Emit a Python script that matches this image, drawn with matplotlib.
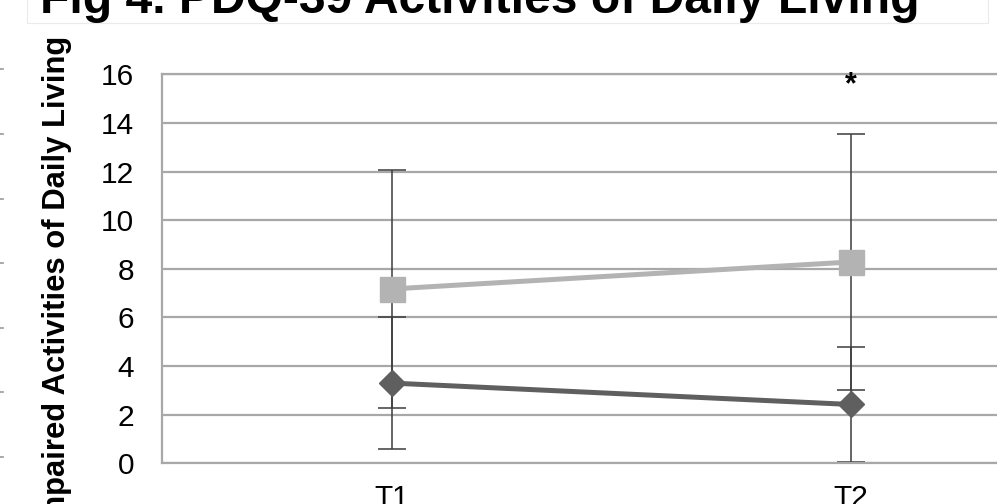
import matplotlib.pyplot as plt
from matplotlib.patches import Rectangle
from matplotlib.lines import Line2D

# PDQ-39 ADL scores at two time points
timepoints = ["T1", "T2"]
group_a_mean = [7.17, 8.28]   # light grey squares
group_a_err = [4.9, 5.25]
group_b_mean = [3.3, 2.42]    # dark grey diamonds
group_b_err = [2.7, 2.35]
y_ticks = [0, 2, 4, 6, 8, 10, 12, 14, 16]
sig_marks = ["", "*"]
sig_height = 15.55

plt.rcParams["font.family"] = ["Liberation Sans", "DejaVu Sans"]

W, H = 997, 504
fig = plt.figure(figsize=(W / 100, H / 100), dpi=100)
fig.patch.set_facecolor("white")

# plot area runs past the right edge of the image
ax = fig.add_axes([162 / W, (H - 463.3) / H, 918 / W, (463.3 - 74.3) / H])
x = list(range(len(timepoints)))

grid_col = "#a8a8a8"
ax.set_xlim(-0.5, len(timepoints) - 0.5)
ax.set_ylim(0, 16)
ax.set_yticks(y_ticks)
ax.set_xticks(x)
ax.set_xticklabels(timepoints)
ax.yaxis.grid(True, color=grid_col, lw=1.6)
ax.set_axisbelow(True)
for side in ["top", "bottom", "left"]:
    ax.spines[side].set_color(grid_col)
    ax.spines[side].set_linewidth(1.6)
ax.spines["right"].set_visible(False)
ax.tick_params(axis="y", length=0, pad=20, labelsize=21.5, colors="black")
ax.tick_params(axis="x", length=0, pad=15, labelsize=21.5, colors="black")

err_kw = dict(fmt="none", ecolor="#3c3c3c", elinewidth=1.1, capsize=10, capthick=1.1, zorder=2)
ax.errorbar(x, group_a_mean, yerr=group_a_err, **err_kw)
ax.errorbar(x, group_b_mean, yerr=group_b_err, **err_kw)

ax.plot(x, group_a_mean, color="#b3b3b3", lw=3.6, marker="s", ms=18,
        mec="#b3b3b3", zorder=3)
ax.plot(x, group_b_mean, color="#5f5f5f", lw=3.6, marker="D", ms=13,
        mec="#5f5f5f", zorder=3)

for xi, mark in zip(x, sig_marks):
    if mark:
        ax.text(xi, sig_height, mark, ha="center", va="center",
                fontsize=22, fontweight="bold")

fig.text(57 / W, 1 - 36 / H, "Impaired Activities of Daily Living",
         rotation=90, ha="center", va="top", fontsize=22.3, fontweight="bold")

fig.text(40 / W, 1 - 13 / H, "Fig 4. PDQ-39 Activities of Daily Living",
         ha="left", va="baseline", fontsize=34.6, fontweight="bold")

# faint frame under the title
fig.add_artist(Rectangle((27 / W, 1 - 23 / H), (988 - 27) / W, 0.2,
                         transform=fig.transFigure, fill=False,
                         edgecolor="#ebebeb", lw=0.8))

# tick stubs from the neighbouring panel at the left edge
for yp in [69, 134, 199, 263, 328, 392, 457]:
    fig.add_artist(Line2D([0, 3 / W], [1 - yp / H] * 2, transform=fig.transFigure,
                          color="#9a9a9a", lw=1.2))

fig.savefig("out.png", dpi=100)
